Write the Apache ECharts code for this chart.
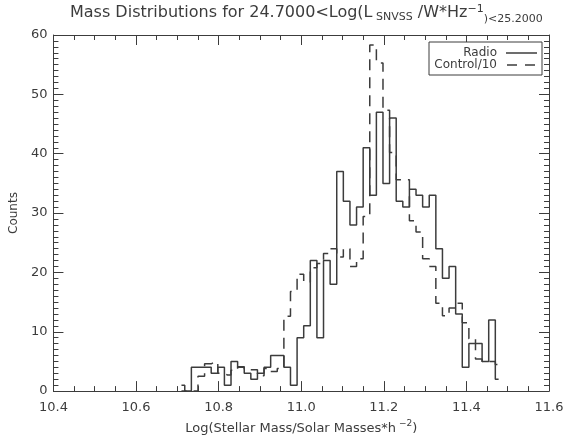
<!DOCTYPE html>
<html>
<head>
<meta charset="utf-8">
<script src="https://cdn.jsdelivr.net/npm/echarts@6/dist/echarts.min.js"></script>
<style>
  html, body { margin: 0; padding: 0; background: #ffffff; }
  #chart { width: 577px; height: 440px; }
</style>
</head>
<body>
<div id="chart"></div>
<script>
// Histogram binning in Log(stellar mass)
const binStart = 10.702;
const binWidth = 0.016;

// Radio sources per bin
const radioCounts = [
  0, 0, 4, 4, 4, 3, 4, 1, 5, 4,
  3, 2, 3, 4, 6, 6, 4, 1, 9, 11,
  22, 9, 22, 18, 37, 32, 28, 31, 41, 33,
  47, 35, 46, 32, 31, 34, 33, 31, 33, 24,
  19, 21, 13, 4, 8, 8, 5, 12, 2
];

// Control sample per bin, scaled down by 10
const controlCounts = [
  1, 0, 0, 2.5, 4.6, 4.9, 3.0, 2.7, 3.5, 4.1,
  3.6, 3.6, 2.6, 3.8, 3.3, 3.8, 12.6, 16.8, 19.7, 18.4,
  20.8, 21.5, 23.2, 24.0, 22.6, 24.0, 21.0, 22.3, 29.4, 58.3,
  55.3, 47.3, 40.2, 35.6, 35.6, 28.7, 26.8, 22.3, 21.0, 14.8,
  12.7, 14.0, 14.8, 11.5, 8.8, 5.4, 5.0, 5.0, 4.5
];

const seriesNames = ['Radio', 'Control/10'];

function toBinCenters(counts) {
  return counts.map((c, i) => [binStart + (i + 0.5) * binWidth, c]);
}

const ink = '#3c3c3c';
const font = 'DejaVu Sans';

function boxAxis(extra) {
  return Object.assign({
    type: 'value',
    axisLine: { show: true, onZero: false, lineStyle: { color: ink, width: 1 } },
    axisTick: { show: true, inside: true, length: 10, lineStyle: { color: ink, width: 1 } },
    splitLine: { show: false },
    minorSplitLine: { show: false }
  }, extra);
}

const xBase = { min: 10.4, max: 11.6, interval: 0.2 };
const yBase = { min: 0, max: 60, interval: 10 };

const chart = echarts.init(document.getElementById('chart'), null, { renderer: 'canvas' });

chart.setOption({
  animation: false,
  backgroundColor: '#ffffff',
  title: {
    left: 70,
    top: 1,
    padding: 0,
    text: '{m|Mass Distributions for 24.7000<Log(L}{s1| SNVSS}{m| /W*Hz}{sup|\u22121}{s2|)<25.2000}',
    textStyle: {
      fontWeight: 'normal',
      rich: {
        m: { fontFamily: font, fontSize: 16, fontWeight: 'normal', color: ink, lineHeight: 24, verticalAlign: 'middle' },
        s1: { fontFamily: font, fontSize: 11, fontWeight: 'normal', color: ink, verticalAlign: 'bottom', padding: [0, 0, 2, 0] },
        s2: { fontFamily: font, fontSize: 11, fontWeight: 'normal', color: ink, verticalAlign: 'bottom' },
        sup: { fontFamily: font, fontSize: 11, fontWeight: 'normal', color: ink, verticalAlign: 'top', padding: [3, 0, 0, 0] }
      }
    }
  },
  grid: { left: 47, right: 28, top: 35, bottom: 36, containLabel: false },
  xAxis: [
    boxAxis(Object.assign({}, xBase, {
      position: 'bottom',
      minorTick: { show: true, splitNumber: 4, length: 5, lineStyle: { color: ink } },
      axisLabel: {
        color: ink, fontFamily: font, fontSize: 13, margin: 10,
        formatter: v => v.toFixed(1)
      },
      name: '{a|Log(Stellar Mass/Solar Masses*h}{s| \u22122}{a|)}',
      nameLocation: 'middle',
      nameGap: 27,
      nameTextStyle: {
        rich: {
          a: { fontFamily: font, fontSize: 13, color: ink, lineHeight: 19, verticalAlign: 'middle' },
          s: { fontFamily: font, fontSize: 9, color: ink, verticalAlign: 'top' }
        }
      }
    })),
    boxAxis(Object.assign({}, xBase, {
      position: 'top',
      minorTick: { show: true, splitNumber: 4, length: 5, lineStyle: { color: ink } },
      axisLabel: { show: false }
    }))
  ],
  yAxis: [
    boxAxis(Object.assign({}, yBase, {
      position: 'left',
      minorTick: { show: true, splitNumber: 10, length: 5, lineStyle: { color: ink } },
      axisLabel: { color: ink, fontFamily: font, fontSize: 13, margin: 6 },
      name: 'Counts',
      nameLocation: 'middle',
      nameRotate: 90,
      nameGap: 29,
      nameTextStyle: { fontFamily: font, fontSize: 12, color: ink }
    })),
    boxAxis(Object.assign({}, yBase, {
      position: 'right',
      minorTick: { show: true, splitNumber: 10, length: 5, lineStyle: { color: ink } },
      axisLabel: { show: false }
    }))
  ],
  series: [
    {
      name: seriesNames[0],
      type: 'line',
      step: 'middle',
      showSymbol: false,
      symbol: 'none',
      data: toBinCenters(radioCounts),
      lineStyle: { color: ink, width: 1.5, type: 'solid' },
      z: 3
    },
    {
      name: seriesNames[1],
      type: 'line',
      step: 'middle',
      showSymbol: false,
      symbol: 'none',
      data: toBinCenters(controlCounts),
      lineStyle: { color: ink, width: 1.5, type: [11, 7] },
      z: 2
    }
  ],
  graphic: [
    {
      type: 'rect',
      shape: { x: 429, y: 42, width: 113, height: 33 },
      style: { fill: '#ffffff', stroke: ink, lineWidth: 1 },
      z: 10
    },
    {
      type: 'text',
      x: 497, y: 53,
      style: { text: seriesNames[0], align: 'right', verticalAlign: 'middle', fontFamily: font, fontSize: 12, fill: ink },
      z: 11
    },
    {
      type: 'line',
      shape: { x1: 506, y1: 53, x2: 537, y2: 53 },
      style: { stroke: ink, lineWidth: 1.5 },
      z: 11
    },
    {
      type: 'text',
      x: 497, y: 65,
      style: { text: seriesNames[1], align: 'right', verticalAlign: 'middle', fontFamily: font, fontSize: 12, fill: ink },
      z: 11
    },
    {
      type: 'line',
      shape: { x1: 507, y1: 65, x2: 537, y2: 65 },
      style: { stroke: ink, lineWidth: 1.5, lineDash: [10, 8] },
      z: 11
    }
  ]
});
</script>
</body>
</html>
